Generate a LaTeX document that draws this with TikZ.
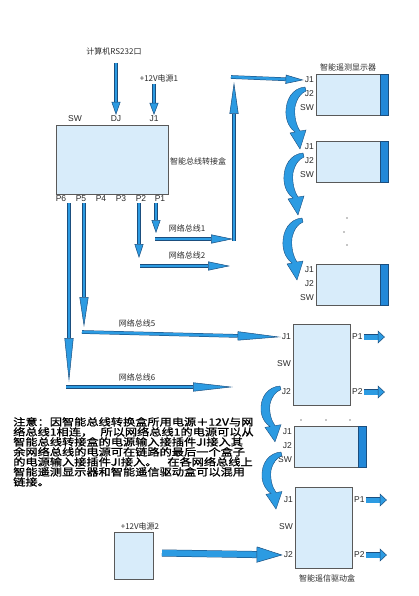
\documentclass[tikz,border=0pt]{standalone}
\usepackage{fontspec}
\setmainfont{Liberation Sans}
\newfontfamily\cjk{Noto Sans CJK SC}
\newfontfamily\cjkbold[FakeBold=1.0]{Noto Sans CJK SC}
\usetikzlibrary{arrows.meta, positioning}

\definecolor{boxfill}{HTML}{D8ECFA}
\definecolor{busblue}{HTML}{2C9BE2}
\definecolor{busedge}{HTML}{1B4E7E}
\definecolor{stripblue}{HTML}{2288D8}
\definecolor{inkgray}{HTML}{2A2A2A}

\tikzset{
  unitbox/.style={draw=black!65, fill=boxfill, line width=0.6pt, inner sep=0pt},
  stripbox/.style={draw=busedge, fill=stripblue, line width=0.5pt, inner sep=0pt,
    minimum width=8, minimum height=#1},
  pinlbl/.style={font=\fontsize{8.5}{9}\selectfont, text=inkgray, inner sep=1pt},
  cnlbl/.style={font=\cjk\fontsize{8}{9}\selectfont, text=inkgray, inner sep=0pt},
  bus/.style={draw=busedge, double=busblue, double distance=2.6pt, line width=0.5pt,
    -{Triangle[length=#1, width=9pt, fill=busblue]}},
  bus/.default=14pt,
  outarrow/.style={draw=busedge, double=busblue, double distance=5pt, line width=0.5pt,
    -{Triangle[length=7pt, width=13pt, fill=busblue]}},
  bigbus/.style={draw=busedge, double=busblue, double distance=6pt, line width=0.5pt,
    -{Triangle[length=26pt, width=16pt, fill=busblue]}},
  hop/.pic={
    \fill[busblue, draw=busedge, line width=0.4pt]
      (0,0) .. controls (-12,1) and (-20,12) .. (-19,28)
      .. controls (-18,37) and (-14,42) .. (-10,45)
      -- (-15,46) -- (-5,62) -- (1,43) -- (-5,44)
      .. controls (-9,38) and (-11,29) .. (-10,20)
      .. controls (-8,11) and (-4,6) .. (1,4) -- cycle;
  },
}

\begin{document}
\begin{tikzpicture}[x=1pt, y=-1pt]
  \useasboundingbox (0,0) rectangle (418,596);

  % bus converter box
  \node[unitbox, minimum width=112, minimum height=69] (hub) at (112,159.5) {};
  \node[cnlbl, anchor=west] (hubname) at (170,161) {智能总线转接盒};
  \node[pinlbl] (sw) at (75,119) {SW};
  \node[pinlbl] (dj) at (116,119) {DJ};
  \node[pinlbl] (j1) at (154,119) {J1};
  \foreach \i/\x in {6/61, 5/81, 4/101, 3/121, 2/141, 1/160}
    \node[pinlbl] (p\i) at (\x,199) {P\i};

  % inputs
  \node[cnlbl] (rsname) at (114,51) {计算机RS232口};
  \node[cnlbl] (pwr1name) at (159,78) {+12V电源1};
  \coordinate (rs232) at (116,63);
  \coordinate (pwr1) at (154,84);
  \draw[bus=13pt] (rs232) -- (dj.north);
  \draw[bus=12pt] (pwr1) -- (j1.north);

  % display units
  \node[cnlbl] (dispname) at (348,67) {智能遥测显示器};
  \foreach \n/\x/\y in {1/316/74, 2/316/141, 3/316/264, 4/294/426} {
    \node[unitbox, anchor=north west, minimum width=72, minimum height=41] (disp\n) at (\x,\y) {};
    \node[stripbox=41, anchor=north east] at (disp\n.north east) {};
    \node[pinlbl, anchor=east] (dj1\n) at (\x-1,\y+6) {J1};
    \node[pinlbl, anchor=east] (dj2\n) at (\x-1,\y+20) {J2};
    \node[pinlbl, anchor=east] (dsw\n) at (\x-1,\y+34) {SW};
  }
  \foreach \x/\y in {347/218, 344/232, 347/245, 301/420, 326/420, 350/420}
    \fill[black!45] (\x,\y) circle (0.9);

  % driver units
  \foreach \n/\x/\y in {1/293/324, 2/295/487} {
    \node[unitbox, anchor=north west, minimum width=57, minimum height=81] (drv\n) at (\x,\y) {};
    \node[pinlbl, anchor=east] (rj1\n) at (\x-1,\y+13) {J1};
    \node[pinlbl, anchor=east] (rsw\n) at (\x-1,\y+40) {SW};
    \node[pinlbl, anchor=east] (rj2\n) at (\x-1,\y+68) {J2};
    \node[pinlbl, anchor=west] (rp1\n) at (\x+58,\y+13) {P1};
    \node[pinlbl, anchor=west] (rp2\n) at (\x+58,\y+68) {P2};
    \draw[outarrow] (rp1\n.east) -- ++(21,0);
    \draw[outarrow] (rp2\n.east) -- ++(21,0);
  }
  \node[cnlbl] (drvname) at (327,578) {智能遥信驱动盒};

  % power supply 2
  \node[unitbox, anchor=north west, minimum width=39, minimum height=47] (pwr2) at (114,532) {};
  \node[cnlbl] (pwr2name) at (140,526) {+12V电源2};
  \coordinate (pwr2out) at (162,553);
  \draw[bigbus] (pwr2out) -- (rj22.west);

  % network bus 1
  \coordinate (n1turn) at (156,233);
  \coordinate (n1a) at (155,239);
  \coordinate (n1b) at (233,239);
  \coordinate (n1c) at (234,241);
  \coordinate (n1d) at (234,82);
  \coordinate (n1e) at (231,77);
  \draw[bus=13pt] (p1.south -| n1turn) -- (n1turn);
  \draw[bus=22pt] (n1a) -- (n1b);
  \draw[bus=32pt] (n1c) -- (n1d);
  \draw[bus=18pt] (n1e) -- (dj11.west);
  \node[cnlbl] (bus1) at (187,228) {网络总线1};

  % network bus 2
  \coordinate (n2turn) at (139,258);
  \coordinate (n2a) at (140,266);
  \coordinate (n2b) at (230,266);
  \draw[bus=14pt] (p2.south -| n2turn) -- (n2turn);
  \draw[bus=22pt] (n2a) -- (n2b);
  \node[cnlbl] (bus2) at (187,255) {网络总线2};

  % network bus 5
  \coordinate (n5turn) at (84,327);
  \coordinate (n5a) at (82,332);
  \draw[bus=30pt] (p5.south -| n5turn) -- (n5turn);
  \draw[bus=43pt] (n5a) -- (rj11.west);
  \node[cnlbl] (bus5) at (137,323) {网络总线5};

  % network bus 6
  \coordinate (n6turn) at (69,382);
  \coordinate (n6a) at (66,387);
  \coordinate (n6b) at (233,387);
  \draw[bus=44pt] (p6.south -| n6turn) -- (n6turn);
  \draw[bus=40pt] (n6a) -- (n6b);
  \node[cnlbl] (bus6) at (137,377) {网络总线6};

  % daisy chain hops
  \pic at (305,87) {hop};
  \pic at (303,153) {hop};
  \pic at (302,218) {hop};
  \pic[yscale=0.9] at (280,386) {hop};
  \pic[yscale=0.92] at (281,452) {hop};

  % note
  \node[anchor=north west, inner sep=0pt, align=left, xscale=1.22,
        font=\cjkbold\fontsize{10}{10}\selectfont] (note) at (13,417)
    {注意：因智能总线转换盒所用电源＋12V与网\\
     络总线1相连，\hspace{0.6em}所以网络总线1的电源可以从\\
     智能总线转接盒的电源输入接插件JI接入其\\
     余网络总线的电源可在链路的最后一个盒子\\
     的电源输入接插件JI接入。\hspace{0.8em}在各网络总线上\\
     智能遥测显示器和智能遥信驱动盒可以混用\\
     链接。};
\end{tikzpicture}
\end{document}
